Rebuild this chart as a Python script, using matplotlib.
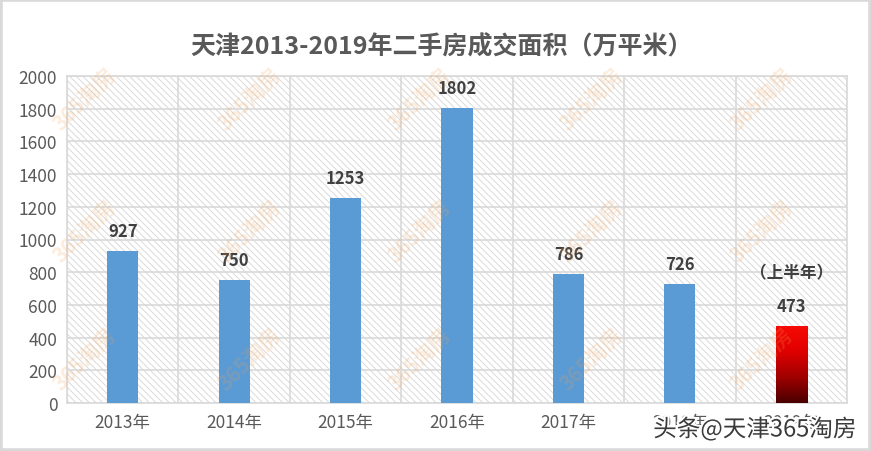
import matplotlib
matplotlib.use("Agg")
import matplotlib.pyplot as plt
import numpy as np
from matplotlib.patches import Rectangle
from matplotlib.colors import LinearSegmentedColormap
import matplotlib.patheffects as pe

plt.rcParams['font.family'] = ['Noto Sans CJK SC', 'DejaVu Sans']
plt.rcParams['hatch.linewidth'] = 0.7
plt.rcParams['hatch.color'] = '#dadada'

years = ['2013年', '2014年', '2015年', '2016年', '2017年', '2018年', '2019年']
values = [927, 750, 1253, 1802, 786, 726, 473]
yticks = [0, 200, 400, 600, 800, 1000, 1200, 1400, 1600, 1800, 2000]
title = '天津2013-2019年二手房成交面积（万平米）'
note = '（上半年）'
watermark = '头条@天津365淘房'
logo = '365淘房'

W, H = 871, 452
fig = plt.figure(figsize=(W/100, H/100), dpi=100)
fig.patch.set_facecolor('white')
fig.patches.append(Rectangle((0, 0), 1, 1, transform=fig.transFigure, fill=False,
                             edgecolor='#d9d9d9', linewidth=4, zorder=10))

ax = fig.add_axes([67/W, 1-404/H, (847-67)/W, (404-77)/H])
ax.set_facecolor('white')
ax.add_patch(Rectangle((0, 0), 1, 1, transform=ax.transAxes, facecolor='white',
                       edgecolor='#dadada', hatch='\\' * 5, linewidth=0, zorder=0))

x = np.arange(len(years))
bw = 0.28
colors = ['#5b9bd5'] * (len(years) - 1) + ['none']
bars = ax.bar(x, values, width=bw, color=colors, zorder=3, linewidth=0)

# gradient for last bar
last = bars[-1]
grad = np.linspace(0, 1, 256).reshape(-1, 1)
cmap = LinearSegmentedColormap.from_list('r', ['#4a0000', '#a00000', '#e00000', '#f80a05'])
bx = last.get_x()
im = ax.imshow(grad, cmap=cmap, origin='lower', aspect='auto',
               extent=[bx, bx + bw, 0, values[-1]], zorder=3)
im.set_clip_path(last)

ax.set_xlim(-0.5, len(years) - 0.5)
ax.set_ylim(0, 2000)
ax.set_yticks(yticks)
ax.set_yticklabels([str(t) for t in yticks])
ax.set_xticks(x)
ax.set_xticklabels(years)
ax.set_xticks(np.arange(-0.5, len(years), 1), minor=True)
ax.tick_params(axis='both', which='both', length=0, labelsize=12.5, colors='#595959')
ax.tick_params(axis='y', pad=7)
ax.tick_params(axis='x', pad=7)
ax.grid(axis='y', which='major', color='#d9d9d9', linewidth=1.2, zorder=1)
ax.grid(axis='x', which='minor', color='#d9d9d9', linewidth=1.2, zorder=1)
ax.set_axisbelow(True)
for s in ax.spines.values():
    s.set_color('#d9d9d9')
    s.set_linewidth(1.2)

for xi, v in zip(x, values):
    ax.annotate(str(v), (xi, v), xytext=(0, 8), textcoords='offset points',
                ha='center', va='bottom', fontsize=12, fontweight='bold',
                color='#404040', zorder=5)
ax.annotate(note, (x[-1], values[-1]), xytext=(0, 32), textcoords='offset points',
            ha='center', va='bottom', fontsize=12, fontweight='bold',
            color='#404040', zorder=5)

# faint logo watermarks
for py in [100, 232, 360]:
    for px in [85, 250, 420, 592, 762]:
        fig.text(px/W, 1-py/H, logo, rotation=45, ha='center', va='center',
                 fontsize=15, fontweight='bold', color='#f5a050', alpha=0.2, zorder=6)

fig.text(442/W, 1-47/H, title, ha='center', va='center', fontsize=18,
         fontweight='bold', color='#595959')

fig.text(755/W, 1-430/H, watermark, ha='center', va='center', fontsize=17,
         color='#3a3a3a', zorder=8,
         path_effects=[pe.withStroke(linewidth=3, foreground='white')])

fig.savefig('out.png', dpi=100)
